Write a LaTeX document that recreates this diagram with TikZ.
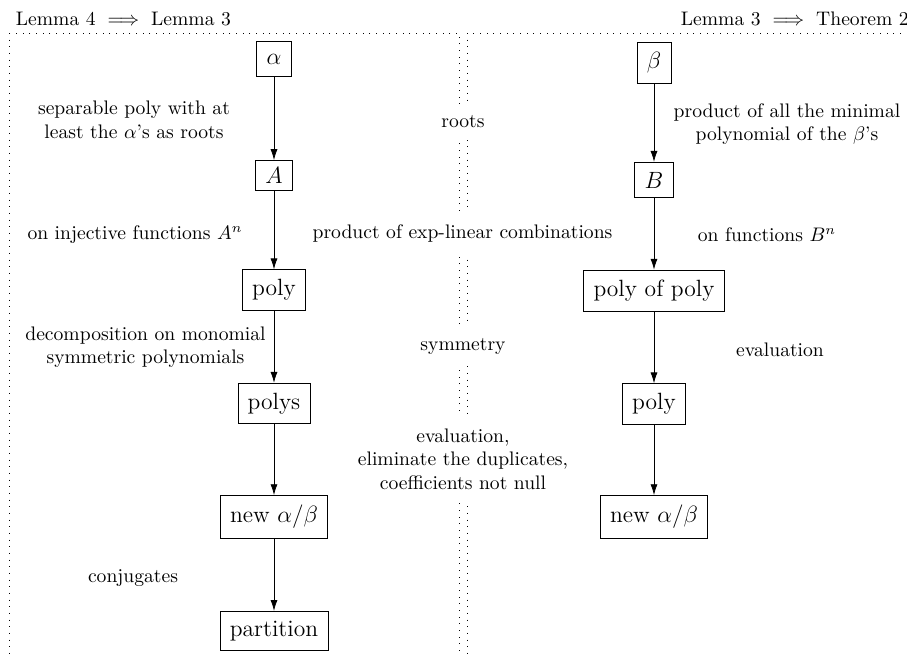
\documentclass[tikz,border=0pt]{standalone}
\usepackage{amsmath}
\usetikzlibrary{arrows.meta}
\begin{document}
\begin{tikzpicture}[x=0.01793cm,y=-0.01793cm,
  box/.style={draw,font=\large,inner sep=5pt},
  lbl/.style={align=center},
  mid/.style={align=center,fill=white,inner sep=6pt},
  frame/.style={dash pattern=on 0.4pt off 3pt},
  arr/.style={-{Latex[length=5.5pt,width=3.6pt]}}]
\useasboundingbox (0,0) rectangle (907,655);
% frames
\draw[frame] (9,33) rectangle (459,720);
\draw[frame] (467,33) rectangle (960,720);
\node[anchor=south west] (tl) at (9,33) {Lemma 4 $\implies$ Lemma 3};
\node[anchor=south west] (tr) at (674,33) {Lemma 3 $\implies$ Theorem 2};
% left column
\node[box,minimum height=17.5pt,minimum width=17pt] (alpha) at (274,59) {$\alpha$};
\node[box,inner ysep=3.6pt,minimum width=17pt] (A) at (274,175.5) {$A$};
\node[box] (polyL) at (274,290) {poly};
\node[box] (polys) at (274,403.5) {polys};
\node[box] (newL) at (274,517) {new $\alpha/\beta$};
\node[box] (part) at (274,631) {partition};
\draw[arr] (alpha) -- (A);
\draw[arr] (A) -- (polyL);
\draw[arr] (polyL) -- (polys);
\draw[arr] (polys) -- (newL);
\draw[arr] (newL) -- (part);
\node[lbl] (l1) at (134,120) {separable poly with at\\least the $\alpha$'s as roots};
\node[lbl] (l2) at (135,235) {on injective functions $A^n$};
\node[lbl] (l3) at (145.5,347) {decomposition on monomial\\symmetric polynomials};
\node[lbl] (l4) at (133,578) {conjugates};
% right column
\node[box,minimum width=17pt] (beta) at (654,63) {$\beta$};
\node[box,minimum width=17pt] (B) at (654,180) {$B$};
\node[box] (pp) at (654,290.5) {poly of poly};
\node[box] (polyR) at (654,404) {poly};
\node[box] (newR) at (654,517) {new $\alpha/\beta$};
\draw[arr] (beta) -- (B);
\draw[arr] (B) -- (pp);
\draw[arr] (pp) -- (polyR);
\draw[arr] (polyR) -- (newR);
\node[lbl] (r1) at (787,124) {product of all the minimal\\polynomial of the $\beta$'s};
\node[lbl] (r2) at (767,235) {on functions $B^n$};
\node[lbl] (r3) at (780,350) {evaluation};
% middle
\node[mid] (m1) at (463,122) {roots};
\node[mid] (m2) at (462.5,233) {product of exp-linear combinations};
\node[mid] (m3) at (463,346) {symmetry};
\node[mid] (m4) at (463,459) {evaluation,\\eliminate the duplicates,\\coefficients not null};
\end{tikzpicture}
\end{document}
